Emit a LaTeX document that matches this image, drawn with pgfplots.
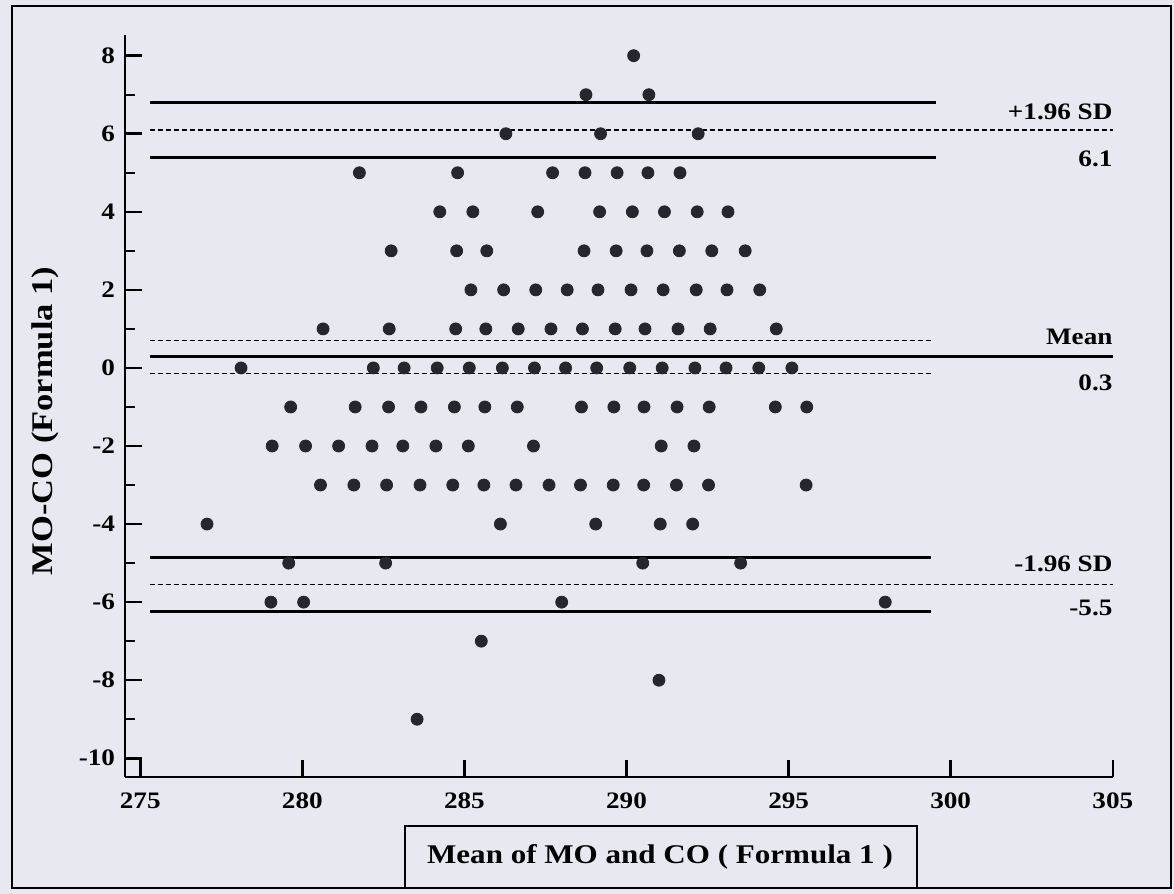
\documentclass[border=0pt]{standalone}
\usepackage{fontspec}
\setmainfont{Liberation Serif}[FakeStretch=1.15]
\usepackage{pgfplots}
\pgfplotsset{compat=1.18}
\definecolor{bg}{RGB}{232,232,240}
\definecolor{dot}{RGB}{38,38,44}
\newcommand{\lblfont}{\bfseries\fontsize{11.8}{13}\selectfont}
\newcommand{\axfont}{\bfseries\fontsize{13.5}{15}\selectfont}
\begin{document}
\begin{tikzpicture}
\fill[bg] (-62.5pt,-58.5pt) rectangle (524.5pt,388.5pt);
\draw[line width=0.9pt] (-56.5pt,-55.5pt) rectangle (523pt,385.5pt);
\begin{axis}[
  at={(0pt,0pt)}, anchor=south west,
  scale only axis, width=493.9pt, height=371pt,
  xmin=274.53, xmax=305, ymin=-10.48, ymax=8.53,
  axis lines=left, axis line style={-, line width=1.4pt},
  tick align=inside, major tick length=8.5pt, minor tick length=5pt,
  major tick style={black, line width=1.3pt},
  minor tick style={black, line width=0.9pt},
  xtick={275,280,...,305}, xticklabels={275,280,285,290,295,300,305},
  ytick={-10,-8,...,8}, yticklabels={-10,-8,-6,-4,-2,0,2,4,6,8},
  minor ytick={-9,-7,...,7},
  tick label style={font=\lblfont},
  xticklabel style={yshift=-4.5pt},
  yticklabel style={xshift=-1.5pt},
  clip=false,
]
% limits of agreement and mean with confidence intervals
\addplot[black, line width=1.4pt] coordinates {(275.3,6.8) (299.55,6.8)};
\addplot[black, line width=0.7pt, dash pattern=on 2.5pt off 1.5pt] coordinates {(275.3,6.1) (305,6.1)};
\addplot[black, line width=1.4pt] coordinates {(275.3,5.4) (299.55,5.4)};
\addplot[black, line width=0.7pt, dash pattern=on 2.5pt off 1.5pt] coordinates {(275.3,0.7) (299.4,0.7)};
\addplot[black, line width=1.4pt] coordinates {(275.3,0.3) (305,0.3)};
\addplot[black, line width=0.7pt, dash pattern=on 2.5pt off 1.5pt] coordinates {(275.3,-0.15) (299.4,-0.15)};
\addplot[black, line width=1.4pt] coordinates {(275.3,-4.85) (299.4,-4.85)};
\addplot[black, line width=0.7pt, dash pattern=on 2.5pt off 1.5pt] coordinates {(275.3,-5.55) (305,-5.55)};
\addplot[black, line width=1.4pt] coordinates {(275.3,-6.25) (299.4,-6.25)};
% data points
\addplot[only marks, mark=*, mark size=3pt, mark options={fill=dot, draw=dot}] coordinates {
(290.22,8)
(288.75,7) (290.69,7)
(286.28,6) (289.20,6) (292.21,6)
(281.76,5) (284.79,5) (287.72,5) (288.72,5) (289.71,5) (290.66,5) (291.65,5)
(284.24,4) (285.26,4) (287.26,4) (289.17,4) (290.18,4) (291.17,4) (292.18,4) (293.13,4)
(282.74,3) (284.76,3) (285.69,3) (288.69,3) (289.68,3) (290.63,3) (291.63,3) (292.63,3) (293.66,3)
(285.20,2) (286.21,2) (287.20,2) (288.17,2) (289.12,2) (290.14,2) (291.13,2) (292.15,2) (293.10,2) (294.11,2)
(280.64,1) (282.68,1) (284.73,1) (285.66,1) (286.66,1) (287.67,1) (288.64,1) (289.65,1) (290.57,1) (291.59,1) (292.58,1) (294.62,1)
(278.11,0) (282.19,0) (283.14,0) (284.16,0) (285.15,0) (286.17,0) (287.16,0) (288.12,0) (289.08,0) (290.10,0) (291.10,0) (292.11,0) (293.07,0) (294.08,0) (295.10,0)
(279.64,-1) (281.63,-1) (282.66,-1) (283.66,-1) (284.69,-1) (285.63,-1) (286.63,-1) (288.61,-1) (289.61,-1) (290.54,-1) (291.56,-1) (292.55,-1) (294.59,-1) (295.56,-1)
(279.07,-2) (280.10,-2) (281.12,-2) (282.15,-2) (283.10,-2) (284.12,-2) (285.12,-2) (287.13,-2) (291.07,-2) (292.08,-2)
(280.56,-3) (281.59,-3) (282.60,-3) (283.63,-3) (284.64,-3) (285.60,-3) (286.59,-3) (287.61,-3) (288.58,-3) (289.59,-3) (290.53,-3) (291.54,-3) (292.53,-3) (295.54,-3)
(277.06,-4) (286.11,-4) (289.05,-4) (291.04,-4) (292.04,-4)
(279.58,-5) (282.57,-5) (290.50,-5) (293.52,-5)
(279.03,-6) (280.04,-6) (288.00,-6) (297.98,-6)
(285.52,-7)
(291.00,-8)
(283.54,-9)
};
% right-hand labels
\node[anchor=east, font=\lblfont, inner sep=0pt] at (axis cs:305,6.55) {+1.96 SD};
\node[anchor=east, font=\lblfont, inner sep=0pt] at (axis cs:305,5.36) {6.1};
\node[anchor=east, font=\lblfont, inner sep=0pt] at (axis cs:305,0.8) {Mean};
\node[anchor=east, font=\lblfont, inner sep=0pt] at (axis cs:305,-0.39) {0.3};
\node[anchor=east, font=\lblfont, inner sep=0pt] at (axis cs:305,-5.03) {-1.96 SD};
\node[anchor=east, font=\lblfont, inner sep=0pt] at (axis cs:305,-6.16) {-5.5};
\end{axis}
% axis titles
\node[rotate=90, font=\bfseries\fontsize{15}{17}\selectfont] at (-40pt,178pt) {MO-CO (Formula 1)};
\draw[line width=0.9pt] (140pt,-55.5pt) rectangle (396pt,-24.5pt);
\node[font=\axfont] at (267.5pt,-40pt) {Mean of MO and CO ( Formula 1 )};
\end{tikzpicture}
\end{document}
